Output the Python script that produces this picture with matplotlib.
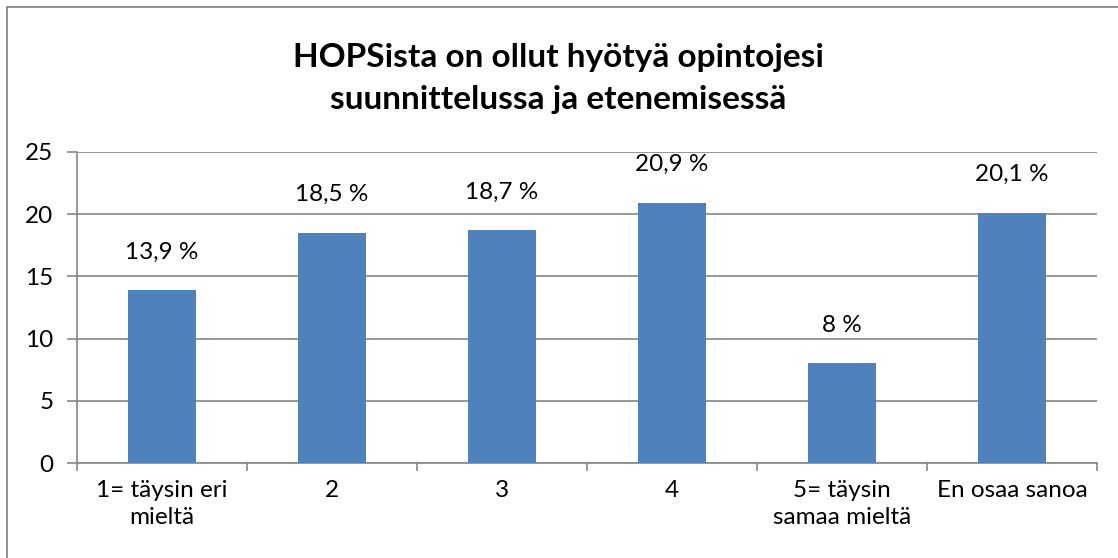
import matplotlib.pyplot as plt
from matplotlib.patches import Rectangle

# data
kategoriat = ["1= täysin eri\nmieltä", "2", "3", "4", "5= täysin\nsamaa mieltä", "En osaa sanoa"]
arvot = [13.9, 18.5, 18.7, 20.9, 8.0, 20.1]
tekstit = ["13,9 %", "18,5 %", "18,7 %", "20,9 %", "8 %", "20,1 %"]
y_ticks = [0, 5, 10, 15, 20, 25]

W, H = 1118, 558
plt.rcParams["font.family"] = ["Lato", "DejaVu Sans"]
fs = 17.5

fig = plt.figure(figsize=(W / 100, H / 100), dpi=100)
ax = fig.add_axes([77 / W, (H - 463) / H, (1097 - 77) / W, (463 - 152) / H])

harmaa = "#868686"
x = list(range(len(arvot)))
ax.bar(x, arvot, width=0.4, color="#4F81BD", zorder=3)

for xi, v, t in zip(x, arvot, tekstit):
    ax.annotate(t, (xi, v), xytext=(0, 27.5), textcoords="offset points",
                ha="center", va="center", fontsize=fs)

ax.set_xlim(-0.5, len(arvot) - 0.5)
ax.set_ylim(0, 25)
ax.set_yticks(y_ticks)
ax.yaxis.grid(True, color=harmaa, linewidth=1.2, zorder=0)
ax.tick_params(axis="y", length=7, color=harmaa, width=1.2, labelsize=fs, pad=10)

ax.set_xticks(x)
ax.set_xticklabels(kategoriat, fontsize=fs, linespacing=1.4)
ax.set_xticks([i - 0.5 for i in range(len(arvot) + 1)], minor=True)
ax.tick_params(axis="x", which="major", length=0, pad=12)
ax.tick_params(axis="x", which="minor", length=6, color=harmaa, width=1.2)
for lab in ax.get_xticklabels():
    lab.set_verticalalignment("top")

for s in ["top", "right"]:
    ax.spines[s].set_visible(False)
for s in ["left", "bottom"]:
    ax.spines[s].set_color(harmaa)
    ax.spines[s].set_linewidth(1.2)

fig.text(558 / W, 1 - 58 / H, "HOPSista on ollut hyötyä opintojesi",
         ha="center", va="center", fontsize=24, fontweight="bold")
fig.text(558 / W, 1 - 100 / H, "suunnittelussa ja etenemisessä",
         ha="center", va="center", fontsize=24, fontweight="bold")

fig.patches.append(Rectangle((7 / W, -0.1), 1.2, 1 - 7 / H + 0.1, transform=fig.transFigure,
                             fill=False, edgecolor=harmaa, linewidth=1.3))

fig.savefig("out.png", dpi=100)
